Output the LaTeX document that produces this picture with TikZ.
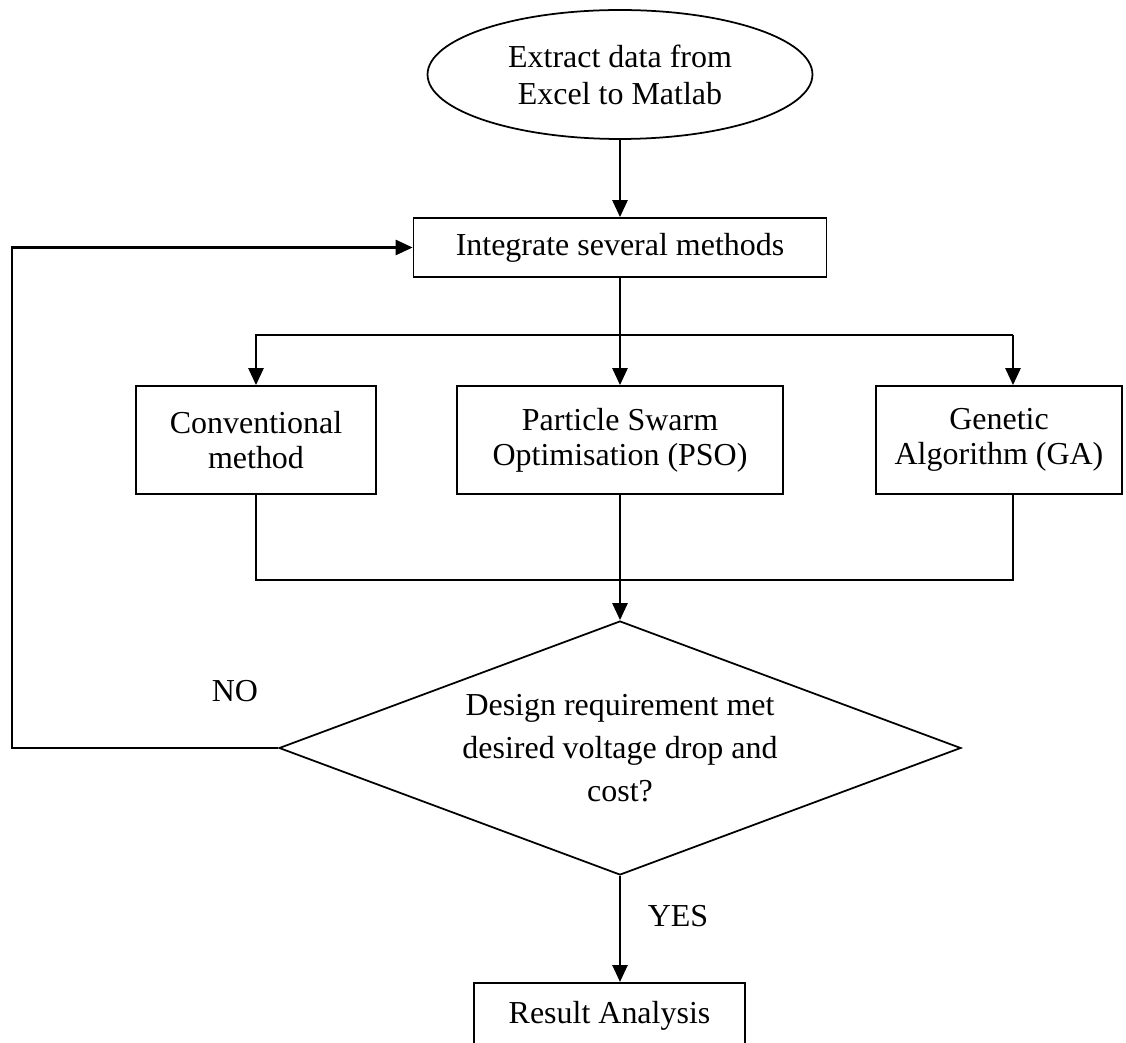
\documentclass[tikz,border=0pt]{standalone}
\usepackage{fontspec}
\setmainfont{Liberation Serif}
\usetikzlibrary{arrows.meta,shapes.geometric,calc}

\begin{document}
\begin{tikzpicture}[x=0.02cm,y=-0.02cm,font=\fontsize{18.2}{20}\selectfont,
	box/.style={draw,line width=1pt,align=center,inner sep=0pt},
	link/.style={line width=1.5pt},
	arr/.style={link,-{Triangle[length=0.34cm,width=0.3cm]}}]
	\useasboundingbox (0,0) rectangle (1126,1043);
	\node (extract) at (620,74.5)[box,ellipse,minimum width=7.7cm,minimum height=2.58cm,font=\fontsize{18.2}{21}\selectfont] {Extract data from\\Excel to Matlab};
	\node (integrate) at (620,247.5)[box,minimum width=8.26cm,minimum height=1.18cm] {Integrate several methods};
	\node (conv) at (256,440)[box,minimum width=4.8cm,minimum height=2.16cm] {Conventional\\method};
	\node (pso) at (620,440)[box,minimum width=6.52cm,minimum height=2.16cm] {Particle Swarm\\Optimisation (PSO)};
	\node (ga) at (999,440)[box,minimum width=4.92cm,minimum height=2.16cm] {Genetic\\Algorithm (GA)};
	\node (check) at (620,748)[box,diamond,aspect=2.68,minimum width=13.64cm,minimum height=5.08cm,font=\fontsize{18.2}{24.5}\selectfont] {Design requirement met\\desired voltage drop and\\cost?};
	\node (result) at (609.5,982)[box,anchor=north,minimum width=5.42cm,inner ysep=0.36cm,text depth=1.2cm] {Result Analysis};
	\node (no) at (235,691) {NO};
	\node (yes) at (678,916) {YES};
	\coordinate (split) at (620,335);
	\coordinate (splitR) at (1013,335);
	\coordinate (merge) at (620,580);
	\coordinate (mergeR) at (1013,580);
	\coordinate (loop) at (12,748);
	\draw[arr] (extract) -- (integrate);
	\draw[link] (integrate) -- (split);
	\draw[arr] (split) -| (conv);
	\draw[arr] (split) -- (pso);
	\draw[link] (split) -- (splitR);
	\draw[arr] (splitR) -- (splitR |- ga.north);
	\draw[link] (conv) |- (merge) -- (mergeR) -- (mergeR |- ga.south);
	\draw[arr] (pso) -- (check);
	\draw[arr] (check.west) -- (loop) |- (integrate);
	\draw[arr] (check.south) -- (check.south |- result.north);
\end{tikzpicture}
\end{document}
